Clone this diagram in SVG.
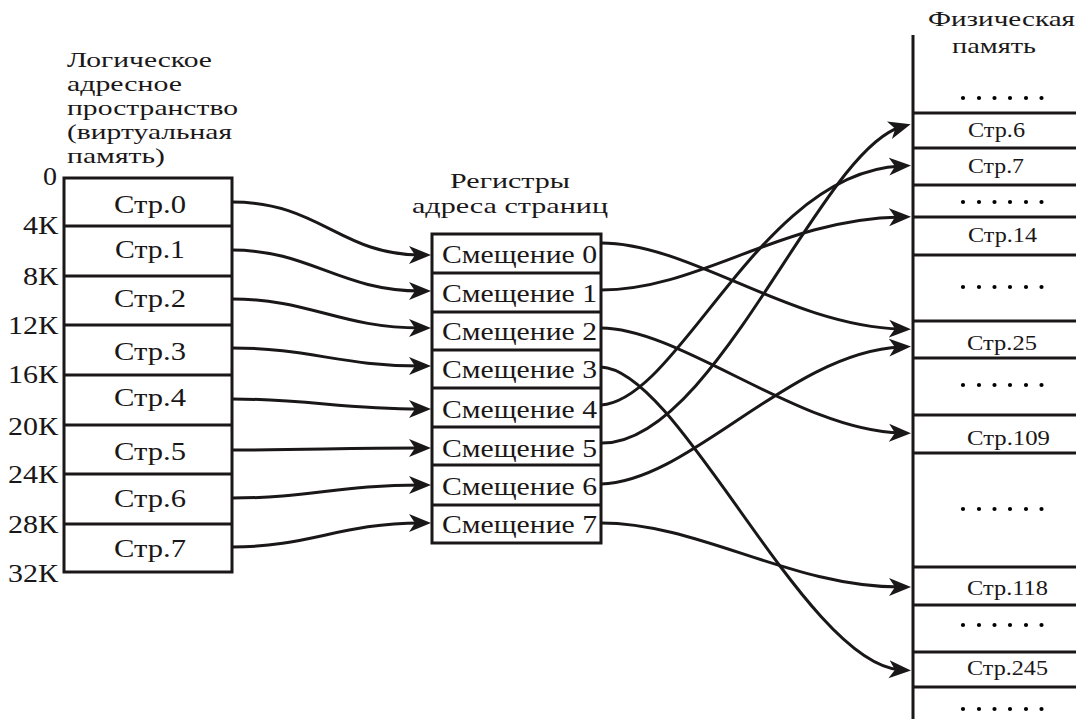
<svg xmlns="http://www.w3.org/2000/svg" width="1076" height="719" viewBox="0 0 1076 719">
  <style>
    text { font-family: "Liberation Serif", "Times New Roman", serif; fill: #1a1718; }
    .t25 { font-size: 26px; }
    .hdr { font-size: 21.5px; }
    .t20 { font-size: 21px; }
    .box { fill: #fff; stroke: #1a1718; stroke-width: 3; }
    .sep { stroke: #1a1718; stroke-width: 3; fill: none; }
    .conn path { fill: none; stroke: #1a1718; stroke-width: 3; marker-end: url(#arrow); }
    .dots circle { fill: #1a1718; }
  </style>
  <defs>
    <marker id="arrow" markerUnits="userSpaceOnUse" viewBox="0 0 24 20" markerWidth="24" markerHeight="20" refX="12" refY="10" orient="auto">
      <path d="M22,10 L0,1 L6,10 L0,19 Z" fill="#1a1718"/>
    </marker>
    <g id="dotrow">
      <circle cx="963" cy="0" r="2.1"/>
      <circle cx="979" cy="0" r="2.1"/>
      <circle cx="994.5" cy="0" r="2.1"/>
      <circle cx="1010" cy="0" r="2.1"/>
      <circle cx="1026" cy="0" r="2.1"/>
      <circle cx="1041.5" cy="0" r="2.1"/>
    </g>
  </defs>

  <rect width="1076" height="719" fill="#fff"/>

  <!-- logical address space -->
  <g id="logical">
    <text class="hdr" x="67" y="67" textLength="145" lengthAdjust="spacingAndGlyphs">Логическое</text>
    <text class="hdr" x="67" y="91" textLength="115" lengthAdjust="spacingAndGlyphs">адресное</text>
    <text class="hdr" x="67" y="115" textLength="171" lengthAdjust="spacingAndGlyphs">пространство</text>
    <text class="hdr" x="67" y="139" textLength="165" lengthAdjust="spacingAndGlyphs">(виртуальная</text>
    <text class="hdr" x="67" y="163" textLength="98" lengthAdjust="spacingAndGlyphs">память)</text>
    <rect class="box" x="64" y="178" width="168" height="394"/>
    <path class="sep" d="M64,226H232M64,276H232M64,325H232M64,375H232M64,425H232M64,474H232M64,524H232"/>
    <g text-anchor="middle" class="t25">
      <text x="150" y="213" textLength="72" lengthAdjust="spacingAndGlyphs">Стр.0</text>
      <text x="150" y="258" textLength="70" lengthAdjust="spacingAndGlyphs">Стр.1</text>
      <text x="150" y="307" textLength="72" lengthAdjust="spacingAndGlyphs">Стр.2</text>
      <text x="150" y="360" textLength="72" lengthAdjust="spacingAndGlyphs">Стр.3</text>
      <text x="150" y="406" textLength="72" lengthAdjust="spacingAndGlyphs">Стр.4</text>
      <text x="150" y="460" textLength="72" lengthAdjust="spacingAndGlyphs">Стр.5</text>
      <text x="150" y="507" textLength="72" lengthAdjust="spacingAndGlyphs">Стр.6</text>
      <text x="150" y="557" textLength="72" lengthAdjust="spacingAndGlyphs">Стр.7</text>
    </g>
    <g text-anchor="end" class="t25">
      <text x="57" y="185" textLength="14" lengthAdjust="spacingAndGlyphs">0</text>
      <text x="58" y="234" textLength="35" lengthAdjust="spacingAndGlyphs">4К</text>
      <text x="58" y="285" textLength="35" lengthAdjust="spacingAndGlyphs">8К</text>
      <text x="58" y="334" textLength="50" lengthAdjust="spacingAndGlyphs">12К</text>
      <text x="58" y="383" textLength="50" lengthAdjust="spacingAndGlyphs">16К</text>
      <text x="58" y="435" textLength="50" lengthAdjust="spacingAndGlyphs">20К</text>
      <text x="58" y="483" textLength="50" lengthAdjust="spacingAndGlyphs">24К</text>
      <text x="58" y="533" textLength="50" lengthAdjust="spacingAndGlyphs">28К</text>
      <text x="58" y="582" textLength="50" lengthAdjust="spacingAndGlyphs">32К</text>
    </g>
  </g>

  <!-- page address registers -->
  <g id="registers">
    <text class="hdr" x="510" y="188" text-anchor="middle" textLength="120" lengthAdjust="spacingAndGlyphs">Регистры</text>
    <text class="hdr" x="510" y="213" text-anchor="middle" textLength="196" lengthAdjust="spacingAndGlyphs">адреса страниц</text>
    <rect class="box" x="432" y="234" width="169" height="309"/>
    <path class="sep" d="M432,273H601M432,312H601M432,350H601M432,388H601M432,427H601M432,465H601M432,505H601"/>
    <g class="t25">
      <text x="442" y="263" textLength="155" lengthAdjust="spacingAndGlyphs">Смещение 0</text>
      <text x="442" y="302" textLength="155" lengthAdjust="spacingAndGlyphs">Смещение 1</text>
      <text x="442" y="340" textLength="155" lengthAdjust="spacingAndGlyphs">Смещение 2</text>
      <text x="442" y="378" textLength="155" lengthAdjust="spacingAndGlyphs">Смещение 3</text>
      <text x="442" y="418" textLength="155" lengthAdjust="spacingAndGlyphs">Смещение 4</text>
      <text x="442" y="457" textLength="155" lengthAdjust="spacingAndGlyphs">Смещение 5</text>
      <text x="442" y="495" textLength="155" lengthAdjust="spacingAndGlyphs">Смещение 6</text>
      <text x="442" y="533" textLength="155" lengthAdjust="spacingAndGlyphs">Смещение 7</text>
    </g>
  </g>

  <!-- physical memory -->
  <g id="physical">
    <text class="hdr" x="1075" y="26" text-anchor="end" textLength="147" lengthAdjust="spacingAndGlyphs">Физическая</text>
    <text class="hdr" x="994" y="53" text-anchor="middle" textLength="84" lengthAdjust="spacingAndGlyphs">память</text>
    <path class="sep" d="M913,35V719"/>
    <path class="sep" d="M913,113H1076M913,148H1076M913,185H1076M913,217H1076M913,255H1076M913,321H1076M913,358H1076M913,415H1076M913,453H1076M913,567H1076M913,605H1076M913,652H1076M913,687H1076"/>
    <g class="t20">
      <text x="968" y="137" textLength="57" lengthAdjust="spacingAndGlyphs">Стр.6</text>
      <text x="968" y="173" textLength="56" lengthAdjust="spacingAndGlyphs">Стр.7</text>
      <text x="968" y="242" textLength="69" lengthAdjust="spacingAndGlyphs">Стр.14</text>
      <text x="967" y="350" textLength="70" lengthAdjust="spacingAndGlyphs">Стр.25</text>
      <text x="967" y="445" textLength="83" lengthAdjust="spacingAndGlyphs">Стр.109</text>
      <text x="967" y="595" textLength="81" lengthAdjust="spacingAndGlyphs">Стр.118</text>
      <text x="967" y="675" textLength="81" lengthAdjust="spacingAndGlyphs">Стр.245</text>
    </g>
    <g class="dots">
      <use href="#dotrow" y="98"/>
      <use href="#dotrow" y="202"/>
      <use href="#dotrow" y="287"/>
      <use href="#dotrow" y="385"/>
      <use href="#dotrow" y="509"/>
      <use href="#dotrow" y="625"/>
      <use href="#dotrow" y="709"/>
    </g>
  </g>

  <!-- connectors -->
  <g id="connectors" class="conn">
    <!-- pages to registers -->
    <path d="M232,202 C320,202 340,255 421,255"/>
    <path d="M232,250 C310,250 340,291 421,291"/>
    <path d="M232,299 C310,299 340,328 421,328"/>
    <path d="M232,348 C310,348 340,366 421,366"/>
    <path d="M232,399 C310,399 340,409 421,409"/>
    <path d="M232,450 C310,450 340,448 421,448"/>
    <path d="M232,498 C310,498 340,485 421,485"/>
    <path d="M232,547 C310,547 340,523 421,523"/>
    <!-- registers to physical frames -->
    <path d="M601,243 C690,243 790,326 901,329"/>
    <path d="M601,290 C700,290 780,219 901,217"/>
    <path d="M601,328 C680,328 800,431 901,433"/>
    <path d="M601,367 C680,370 805,664 901,670"/>
    <path d="M601,405 C680,400 760,172 901,166"/>
    <path d="M601,443 C715,445 820,150 901,127"/>
    <path d="M601,484 C690,482 790,352 901,347"/>
    <path d="M601,523 C700,523 790,587 901,587"/>
  </g>
</svg>
